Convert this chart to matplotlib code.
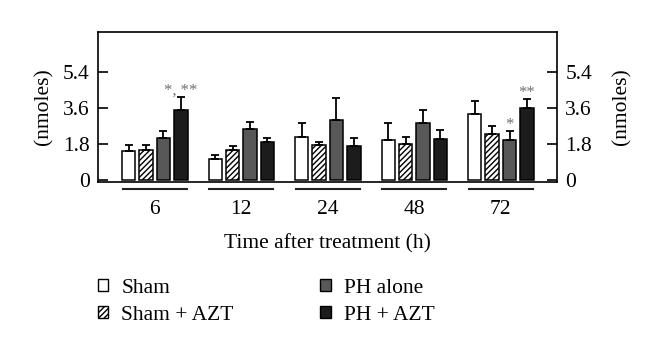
import numpy as np
import matplotlib
matplotlib.use("Agg")
import matplotlib.pyplot as plt
from matplotlib.patches import Patch

plt.rcParams['font.family'] = ['Liberation Serif', 'DejaVu Serif']
plt.rcParams['hatch.linewidth'] = 1.0

# data (nmoles)
times = ["6", "12", "24", "48", "72"]
groups = ["Sham", "Sham + AZT", "PH alone", "PH + AZT"]
sham = [1.45, 1.07, 2.13, 2.02, 3.30]
sham_azt = [1.52, 1.48, 1.73, 1.82, 2.28]
ph_alone = [2.12, 2.55, 3.02, 2.87, 2.02]
ph_azt = [3.48, 1.90, 1.68, 2.03, 3.60]
sham_err = [0.32, 0.20, 0.72, 0.85, 0.63]
sham_azt_err = [0.25, 0.24, 0.15, 0.35, 0.42]
ph_alone_err = [0.35, 0.35, 1.06, 0.61, 0.45]
ph_azt_err = [0.67, 0.22, 0.44, 0.47, 0.47]

# significance marks: (time index, series index, text)
marks = [(0, 3, "*, **"), (4, 2, "*"), (4, 3, "**")]

means = [sham, sham_azt, ph_alone, ph_azt]
errs = [sham_err, sham_azt_err, ph_alone_err, ph_azt_err]
colors = ["white", "white", "#585858", "#1c1c1c"]
hatches = [None, "//////", None, None]
fs = 15.5

fig = plt.figure(figsize=(6.6, 3.55), dpi=100)
ax = fig.add_axes([0.1485, 0.4873, 0.6955, 0.4225])

x = np.arange(len(times))
pitch = 0.201
width = 0.154
for i in range(4):
    xpos = x + (i - 1.5) * pitch
    ax.bar(xpos, means[i], width, color=colors[i], edgecolor="black",
           linewidth=1.1, hatch=hatches[i], zorder=2)
    ax.errorbar(xpos, means[i], yerr=[np.zeros(len(times)), errs[i]],
                fmt="none", ecolor="black", elinewidth=1.3, capsize=3,
                capthick=1.3, zorder=3)

for t, s, txt in marks:
    xp = x[t] + (s - 1.5) * pitch
    top = means[s][t] + errs[s][t]
    ax.annotate(txt, (xp, top), xytext=(0, -1.5), textcoords="offset points",
                ha="center", va="bottom", fontsize=12, color="#707070")

# lines under each time group
for c in x:
    ax.plot([c - 0.37, c + 0.37], [-0.047, -0.047], color="#222222", lw=1.5,
            transform=ax.get_xaxis_transform(), clip_on=False)

ax2 = ax.twinx()

ax.set_xlim(-0.656, 4.65)
ax.set_ylim(-0.1, 7.4)
ax.set_yticks([0, 1.8, 3.6, 5.4])
ax.set_yticklabels(["0", "1.8", "3.6", "5.4"])
ax.set_xticks(x)
ax.set_xticklabels(times)
ax.tick_params(axis="x", length=0, pad=13, labelsize=fs)
ax.tick_params(axis="y", direction="in", length=7, width=1.2, pad=6,
               labelsize=fs, left=True, right=True, labelleft=True,
               labelright=True)
for sp in ax.spines.values():
    sp.set_linewidth(1.2)

ax.set_ylabel("(nmoles)", fontsize=fs)
ax.yaxis.set_label_coords(-0.097, 0.5)
ax.set_xlabel("Time after treatment (h)", fontsize=fs, labelpad=11)

ax2.set_ylim(ax.get_ylim())
ax2.set_yticks([])
ax2.set_ylabel("(nmoles)", fontsize=fs)
ax2.yaxis.set_label_coords(1.12, 0.5)
for sp in ax2.spines.values():
    sp.set_visible(False)

handles = [Patch(facecolor=colors[i], edgecolor="black", hatch=hatches[i],
                 linewidth=1.0) for i in range(4)]
fig.legend(handles, groups, loc="upper left", bbox_to_anchor=(0.148, 0.215),
           ncol=2, frameon=False, fontsize=fs, handlelength=0.5,
           handleheight=0.5, handletextpad=0.6, columnspacing=4.0,
           labelspacing=0.38, borderpad=0, borderaxespad=0)

fig.savefig("out.png", dpi=100)
